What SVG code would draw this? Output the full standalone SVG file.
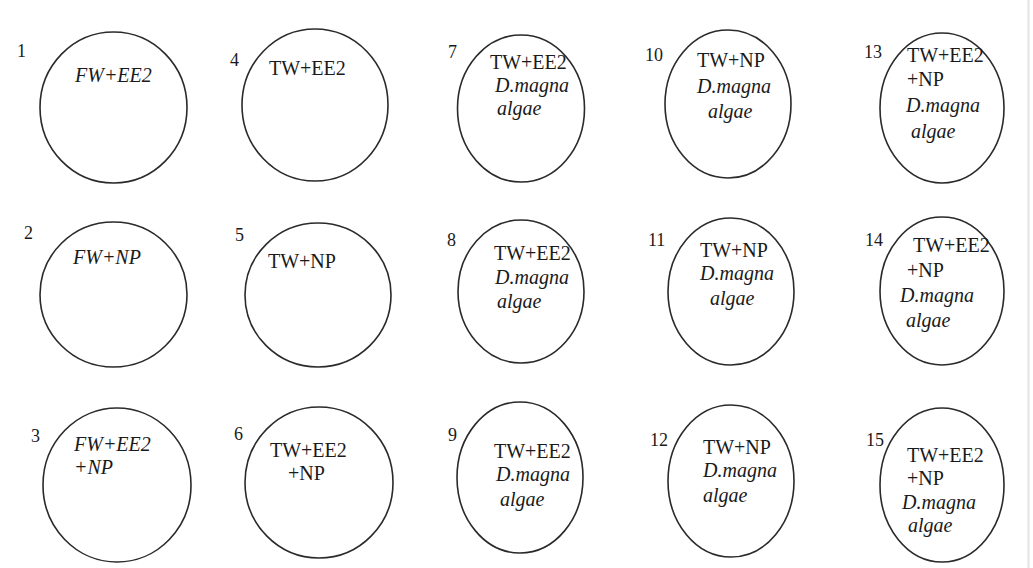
<svg xmlns="http://www.w3.org/2000/svg" width="1033" height="568" viewBox="0 0 1033 568">
<style>
.c{fill:#fff;stroke:#2a2a2a;stroke-width:1.6}
.t{font-family:"Liberation Serif","Times New Roman",serif;font-size:20px;fill:#1a1a1a}
.i{font-style:italic}
.n{font-family:"Liberation Serif","Times New Roman",serif;font-size:18px;fill:#1a1a1a}
</style>
<rect x="0" y="0" width="1033" height="568" fill="#fff"/>
<line x1="1028.5" y1="0" x2="1028.5" y2="568" stroke="#e2e2e2" stroke-width="2"/>
<g id="connectors"/>
<g id="n1"><text class="n" x="17" y="57">1</text><ellipse class="c" cx="113.5" cy="107.5" rx="73.5" ry="75.5"/><text class="t i" x="75" y="82">FW+EE2</text></g>
<g id="n2"><text class="n" x="24" y="239">2</text><ellipse class="c" cx="113.5" cy="294.5" rx="73.5" ry="72.5"/><text class="t i" x="73" y="264">FW+NP</text></g>
<g id="n3"><text class="n" x="31" y="442">3</text><ellipse class="c" cx="117" cy="485" rx="74" ry="77"/><text class="t i" x="74" y="451">FW+EE2</text><text class="t i" x="74" y="474">+NP</text></g>
<g id="n4"><text class="n" x="230" y="66">4</text><ellipse class="c" cx="315" cy="105" rx="73" ry="76"/><text class="t" x="269" y="75">TW+EE2</text></g>
<g id="n5"><text class="n" x="235" y="241">5</text><ellipse class="c" cx="318" cy="295" rx="73" ry="72"/><text class="t" x="268" y="268">TW+NP</text></g>
<g id="n6"><text class="n" x="234" y="440">6</text><ellipse class="c" cx="319" cy="482.5" rx="74" ry="75.5"/><text class="t" x="270" y="457">TW+EE2</text><text class="t" x="288" y="480">+NP</text></g>
<g id="n7"><text class="n" x="448" y="58">7</text><ellipse class="c" cx="521" cy="108.5" rx="63.5" ry="73.5"/><text class="t" x="490" y="69">TW+EE2</text><text class="t i" x="495" y="92">D.magna</text><text class="t i" x="497" y="115">algae</text></g>
<g id="n8"><text class="n" x="447" y="246">8</text><ellipse class="c" cx="521" cy="291.5" rx="63" ry="71.5"/><text class="t" x="494" y="260">TW+EE2</text><text class="t i" x="495" y="284">D.magna</text><text class="t i" x="497" y="308">algae</text></g>
<g id="n9"><text class="n" x="448" y="441">9</text><ellipse class="c" cx="520" cy="477.5" rx="63" ry="75.5"/><text class="t" x="494" y="458">TW+EE2</text><text class="t i" x="496" y="481">D.magna</text><text class="t i" x="500" y="506">algae</text></g>
<g id="n10"><text class="n" x="645" y="61">10</text><ellipse class="c" cx="728" cy="104" rx="63" ry="74"/><text class="t" x="697" y="67">TW+NP</text><text class="t i" x="697" y="93">D.magna</text><text class="t i" x="708" y="118">algae</text></g>
<g id="n11"><text class="n" x="648" y="246">11</text><ellipse class="c" cx="731" cy="291.5" rx="63" ry="73.5"/><text class="t" x="700" y="257">TW+NP</text><text class="t i" x="700" y="280">D.magna</text><text class="t i" x="710" y="305">algae</text></g>
<g id="n12"><text class="n" x="650" y="446">12</text><ellipse class="c" cx="731" cy="481" rx="63" ry="76"/><text class="t" x="703" y="454">TW+NP</text><text class="t i" x="703" y="477">D.magna</text><text class="t i" x="703" y="502">algae</text></g>
<g id="n13"><text class="n" x="864" y="58">13</text><ellipse class="c" cx="942" cy="108" rx="62" ry="75"/><text class="t" x="907" y="62">TW+EE2</text><text class="t" x="907" y="86">+NP</text><text class="t i" x="906" y="112">D.magna</text><text class="t i" x="911" y="138">algae</text></g>
<g id="n14"><text class="n" x="865" y="246">14</text><ellipse class="c" cx="942" cy="291" rx="62" ry="74"/><text class="t" x="913" y="252">TW+EE2</text><text class="t" x="907" y="277">+NP</text><text class="t i" x="900" y="302">D.magna</text><text class="t i" x="906" y="327">algae</text></g>
<g id="n15"><text class="n" x="866" y="446">15</text><ellipse class="c" cx="942" cy="485" rx="62" ry="77"/><text class="t" x="907" y="462">TW+EE2</text><text class="t" x="907" y="485">+NP</text><text class="t i" x="902" y="509">D.magna</text><text class="t i" x="908" y="532">algae</text></g>
</svg>
